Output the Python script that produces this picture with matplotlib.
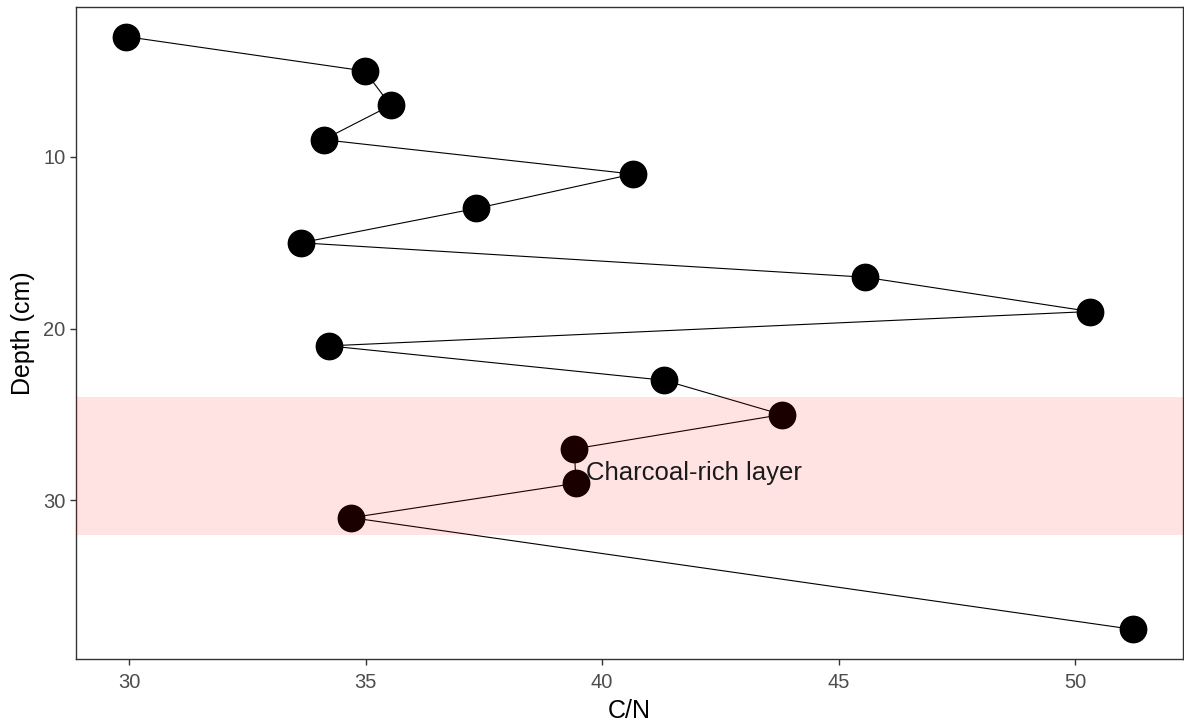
import numpy as np
import matplotlib
matplotlib.use("Agg")
from matplotlib import pyplot as plt

plt.rcParams['font.family'] = ['Liberation Sans', 'DejaVu Sans']

# perfil C/N frente a profundidad
profundidad = [3, 5, 7, 9, 11, 13, 15, 17, 19, 21, 23, 25, 27, 29, 31, 37.5]
cn = [29.94, 34.98, 35.53, 34.11, 40.65, 37.34, 33.63, 45.55, 50.32,
      34.22, 41.31, 43.80, 39.41, 39.45, 34.70, 51.22]

capa_ini, capa_fin = 24, 32
etiqueta = "Charcoal-rich layer"
etiqueta_x, etiqueta_y = 41.95, 28.4

xticks = [30, 35, 40, 45, 50]
yticks = [10, 20, 30]

fig = plt.figure(figsize=(11.84, 7.28), dpi=100)
ax = fig.add_axes([0.0642, 0.0948, 0.935, 0.8956])

ax.plot(cn, profundidad, color='black', lw=0.8, zorder=2)
ax.plot(cn, profundidad, 'o', color='black', ms=19, zorder=3)

# banda de la capa con carbón (encima de los puntos, semitransparente)
ax.axhspan(capa_ini, capa_fin, color='red', alpha=0.11, lw=0, zorder=4)
ax.text(etiqueta_x, etiqueta_y, etiqueta, ha='center', va='center',
        fontsize=18.5, color='#1a1a1a', zorder=5)

ax.margins(x=0.05, y=0.05)
ax.invert_yaxis()
ax.set_xticks(xticks)
ax.set_yticks(yticks)
ax.tick_params(colors='#333333', labelcolor='#4d4d4d', labelsize=14.5,
               length=4, width=1)
ax.tick_params(axis='x', pad=6)
ax.tick_params(axis='y', pad=3.5)
for s in ax.spines.values():
    s.set_color('#333333')
    s.set_linewidth(1)

ax.set_xlabel("C/N", fontsize=18, labelpad=5)
ax.set_ylabel("Depth (cm)", fontsize=18, labelpad=6)

fig.savefig("out.png", dpi=100)
